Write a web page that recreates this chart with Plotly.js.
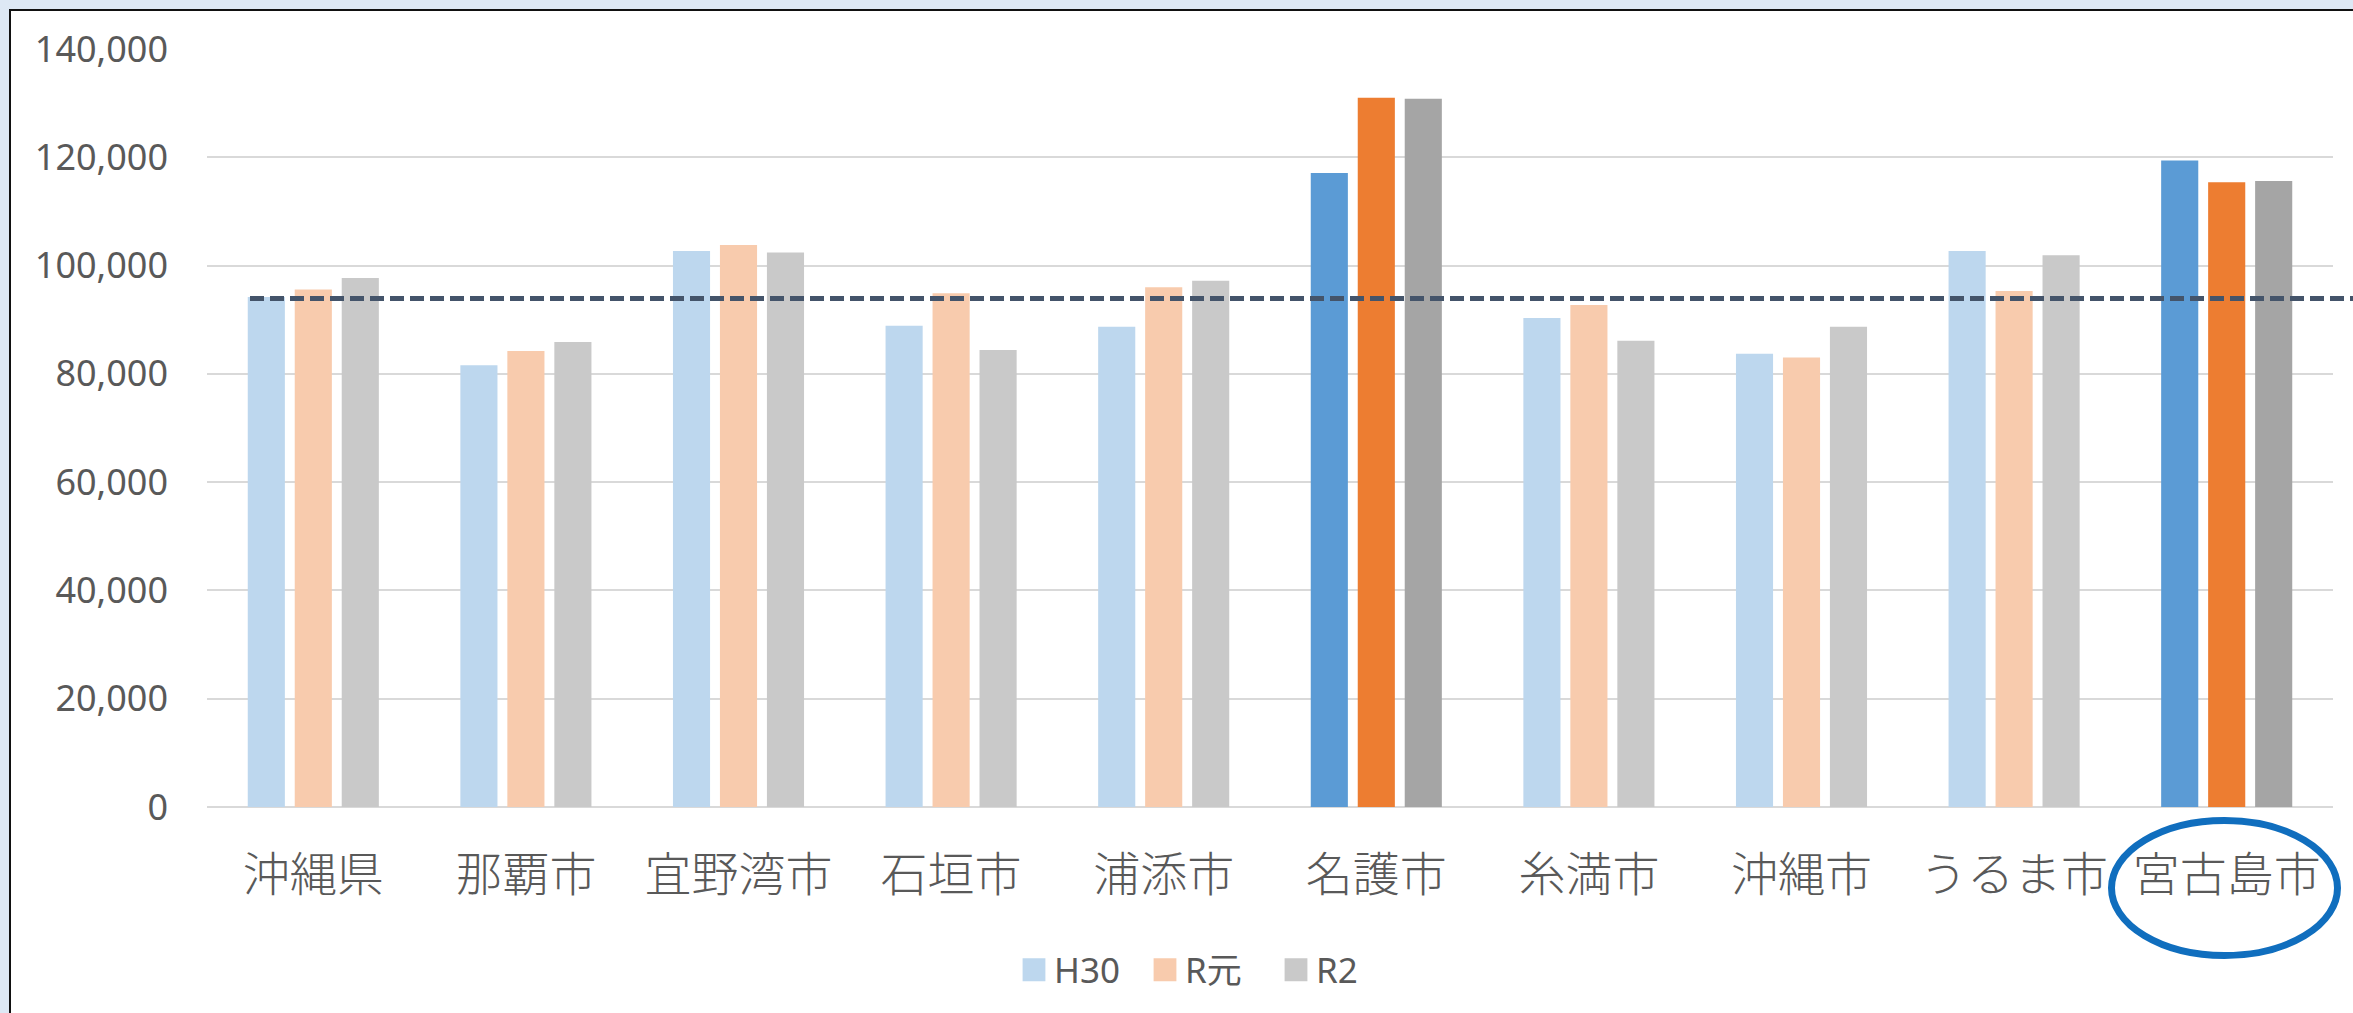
<!DOCTYPE html>
<html>
<head>
<meta charset="utf-8">
<script src="https://cdn.plot.ly/plotly-3.0.1.min.js"></script>
<style>
  html, body { margin: 0; padding: 0; width: 2353px; height: 1013px; overflow: hidden; background: #DDE8F4; }
  #frame { position: absolute; left: 9px; top: 9px; width: 2344px; height: 1004px; background: #fff;
           border-left: 2px solid #111; border-top: 2px solid #111; box-sizing: border-box; }
  #chart { position: absolute; left: 0; top: 0; width: 2353px; height: 1013px; }
</style>
</head>
<body>
<div id="frame"></div>
<div id="chart"></div>
<script>
// ---- data ----
const categories = ['沖縄県','那覇市','宜野湾市','石垣市','浦添市','名護市','糸満市','沖縄市','うるま市','宮古島市'];
const seriesNames = ['H30', 'R元', 'R2'];
const valuesH30 = [94200, 81600, 102700, 88900, 88700, 117100, 90300, 83700, 102700, 119400];
const valuesR1  = [95600, 84200, 103800, 94900, 96000, 131000, 92700, 83000, 95300, 115400];
const valuesR2  = [97700, 85900, 102400, 84400, 97200, 130800, 86100, 88700, 101900, 115600];
const averageLine = 93900;
const highlighted = ['名護市', '宮古島市'];
const yTicks = [0, 20000, 40000, 60000, 80000, 100000, 120000, 140000];

// ---- styles ----
const lightColors = ['#BDD7EE', '#F8CBAD', '#C9C9C9'];
const darkColors  = ['#5B9BD5', '#ED7D31', '#A5A5A5'];
const allValues = [valuesH30, valuesR1, valuesR2];

const traces = allValues.map((vals, i) => ({
  type: 'bar',
  name: seriesNames[i],
  x: categories,
  y: vals,
  marker: {
    color: categories.map(c => highlighted.includes(c) ? darkColors[i] : lightColors[i]),
    line: { width: 0 }
  },
  hoverinfo: 'none'
}));

const W = 2353, H = 1013;
const L = 207, R = 20, T = 49, B = 206;
const plotW = W - L - R, plotH = H - T - B;
const px2x = p => (p - L) / plotW;
const px2y = p => (H - B - p) / plotH;

const layout = {
  width: W, height: H,
  margin: { l: L, r: R, t: T, b: B, pad: 0 },
  paper_bgcolor: 'rgba(0,0,0,0)',
  plot_bgcolor: 'rgba(0,0,0,0)',
  barmode: 'group',
  bargap: 0.337,
  bargroupgap: 0.21,
  showlegend: true,
  legend: {
    orientation: 'h',
    x: px2x(1014), xanchor: 'left',
    y: px2y(970), yanchor: 'middle',
    font: { family: 'Noto Sans, Noto Sans CJK JP, sans-serif', size: 35, color: '#595959' },
    entrywidth: 86,
    entrywidthmode: 'pixels',
    traceorder: 'normal',
    bgcolor: 'rgba(0,0,0,0)'
  },
  xaxis: {
    type: 'category',
    showgrid: false,
    showline: false,
    ticks: '',
    tickfont: { family: 'Noto Sans CJK JP, sans-serif', size: 47, color: '#595959', weight: 300 },
    ticklabelstandoff: 36,
    fixedrange: true
  },
  yaxis: {
    range: [0, 140000],
    tickvals: yTicks,
    tickformat: ',d',
    showgrid: true,
    gridcolor: '#D9D9D9',
    gridwidth: 2,
    zeroline: true,
    zerolinecolor: '#D9D9D9',
    zerolinewidth: 2,
    showline: false,
    ticks: '',
    tickfont: { family: 'Noto Sans, sans-serif', size: 36, color: '#595959' },
    ticklabelstandoff: 38,
    fixedrange: true
  },
  shapes: [
    {
      type: 'line', xref: 'paper', yref: 'y',
      x0: px2x(250), x1: px2x(2353), y0: averageLine, y1: averageLine,
      line: { color: '#44546A', width: 5, dash: '14px,6px' },
      layer: 'above'
    },
    {
      type: 'circle', xref: 'paper', yref: 'paper',
      x0: px2x(2111.5), x1: px2x(2337.5), y0: px2y(955.5), y1: px2y(820.5),
      line: { color: '#106EBE', width: 7 },
      fillcolor: 'rgba(0,0,0,0)',
      layer: 'above'
    }
  ]
};

const gd = document.getElementById('chart');
function scaleLegend() {
  document.querySelectorAll('#chart .legend .legendpoints path').forEach(p => {
    if (p.getAttribute('data-scaled')) return;
    const t = p.getAttribute('transform') || '';
    p.setAttribute('transform', (t + ' scale(1.9)').trim());
    p.setAttribute('data-scaled', '1');
  });
}
Plotly.newPlot(gd, traces, layout, { displayModeBar: false, staticPlot: true }).then(() => {
  scaleLegend();
  gd.on && gd.on('plotly_afterplot', scaleLegend);
});
</script>
</body>
</html>
